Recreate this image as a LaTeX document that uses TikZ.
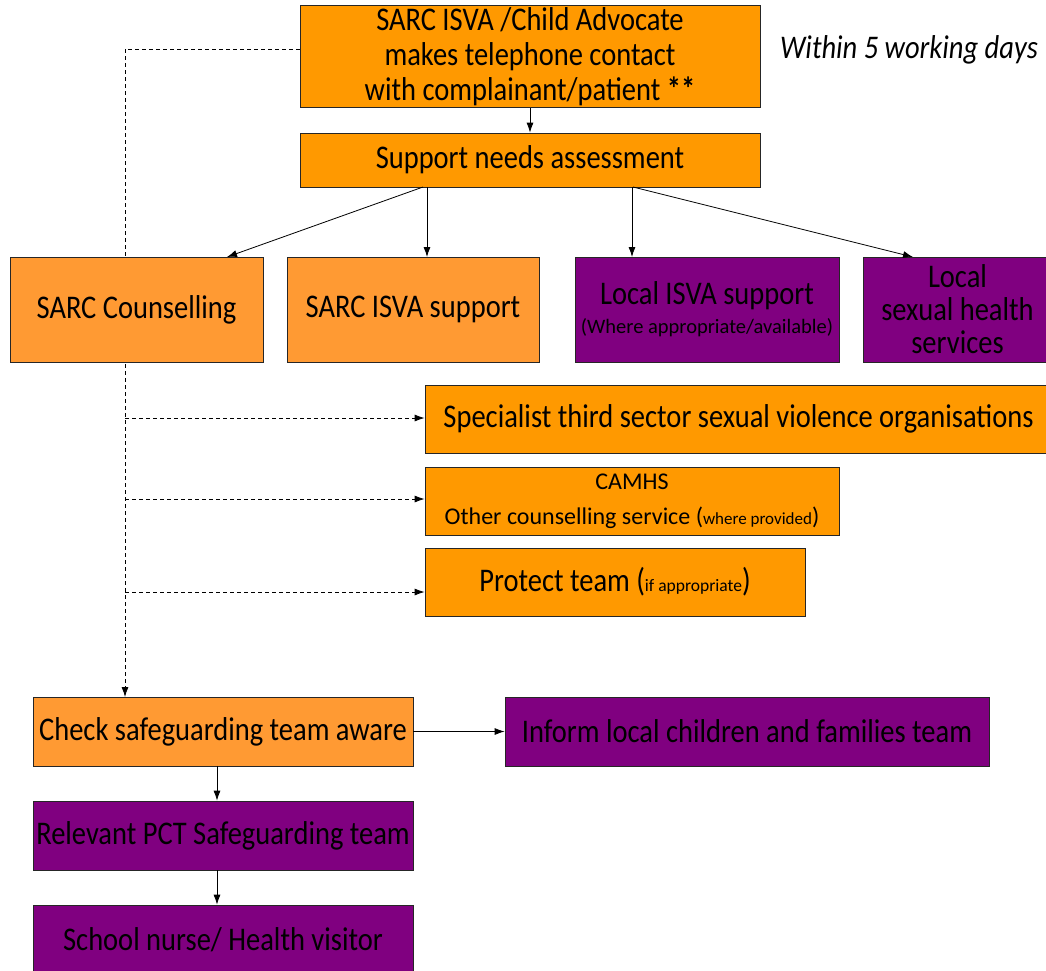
\documentclass[tikz,border=0pt]{standalone}
\usepackage{fontspec}
\usepackage{graphicx}
\setmainfont{Carlito}
\usetikzlibrary{arrows.meta,backgrounds}
\definecolor{orA}{HTML}{FF9900}
\definecolor{orB}{HTML}{FF9A33}
\definecolor{purp}{HTML}{800080}
\newcommand{\tl}[1]{\scalebox{1}[1.16]{#1}}
\tikzset{
  box/.style={draw=black!85, line width=0.8pt, inner sep=2pt, align=center, font=\fontsize{28.5}{35}\selectfont, text=black},
  ora/.style={box, fill=orA},
  orb/.style={box, fill=orB},
  pur/.style={box, fill=purp},
  conn/.style={line width=0.8pt, -{Latex[length=10pt,width=7pt]}},
  dconn/.style={conn, dash pattern=on 4pt off 3pt}
}
\newcommand{\bx}[6]{% name, style, x1, x2, y1, y2 (pixel, y down)
  \node[#2, minimum width={#4-#3}, minimum height={#6-#5}] (#1) at ({(#3+#4)/2}, {-(#5+#6)/2}) }
\begin{document}
\begin{tikzpicture}[x=1pt,y=1pt]
\useasboundingbox (0,0) rectangle (1046,-970);
\clip (0,0) rectangle (1046,-970);
\bx{top}{ora}{300}{760}{7}{106}{\tl{SARC ISVA /Child Advocate}\\\tl{makes telephone contact}\\\tl{with complainant/patient \textbf{**}}};
\bx{supp}{ora}{300}{760}{133}{187}{\tl{Support needs assessment}};
\bx{couns}{orb}{10}{263}{257}{362}{\tl{SARC Counselling}};
\bx{sisva}{orb}{287}{539}{257}{362}{\tl{SARC ISVA support}};
\bx{lisva}{pur}{575}{839}{257}{362}{\tl{Local ISVA support}\\[-6pt]{\fontsize{20.5}{22}\selectfont (Where appropriate/available)}};
\bx{lsh}{pur}{863}{1052}{257}{362}{\tl{Local}\\[-2pt]\tl{sexual health}\\[-2pt]\tl{services}};
\bx{spec}{ora}{425}{1052}{385}{453}{\tl{Specialist third sector sexual violence organisations}};
\bx{camhs}{ora}{425}{839}{467}{535}{{\fontsize{24}{32}\selectfont CAMHS}\\{\fontsize{24}{32}\selectfont Other counselling service (}{\fontsize{17}{32}\selectfont where provided}{\fontsize{24}{32}\selectfont )}};
\bx{prot}{ora}{425}{805}{548}{616}{\tl{Protect team (}{\fontsize{17.5}{20}\selectfont if appropriate}\tl{)}};
\bx{check}{orb}{33}{413}{697}{766}{\tl{Check safeguarding team aware}};
\bx{inform}{pur}{505}{989}{697}{766}{\tl{Inform local children and families team}};
\bx{relev}{pur}{33}{413}{801}{870}{\tl{Relevant PCT Safeguarding team}};
\bx{school}{pur}{33}{413}{905}{975}{\tl{School nurse/ Health visitor}};
\node[font=\fontsize{28.5}{32}\selectfont\itshape] (within) at (909,-50) {\tl{Within 5 working days}};
% coordinates
\coordinate (vtop) at (125,-49);
\coordinate (vchk) at (125,-697);
\coordinate (d1) at (125,-418);
\coordinate (d2) at (125,-499);
\coordinate (d3) at (125,-592);
\begin{scope}[on background layer]
\draw[line width=0.8pt, dash pattern=on 4pt off 3pt] (top.west |- vtop) -- (vtop);
\draw[dconn] (vtop) -- (vchk);
\draw[dconn] (d1) -- (spec.west |- d1);
\draw[dconn] (d2) -- (camhs.west |- d2);
\draw[dconn] (d3) -- (prot.west |- d3);
\end{scope}
\draw[conn] (top.south) -- (supp.north);
\draw[conn] (423,-187) -- (227,-257);
\draw[conn] (427,-187) -- (427,-257);
\draw[conn] (632,-187) -- (632,-257);
\draw[conn] (633,-187) -- (913,-257);
\draw[conn] (check.east) -- (inform.west);
\draw[conn] (check.south -| 217,0) -- (relev.north -| 217,0);
\draw[conn] (relev.south -| 217,0) -- (school.north -| 217,0);
\end{tikzpicture}
\end{document}
